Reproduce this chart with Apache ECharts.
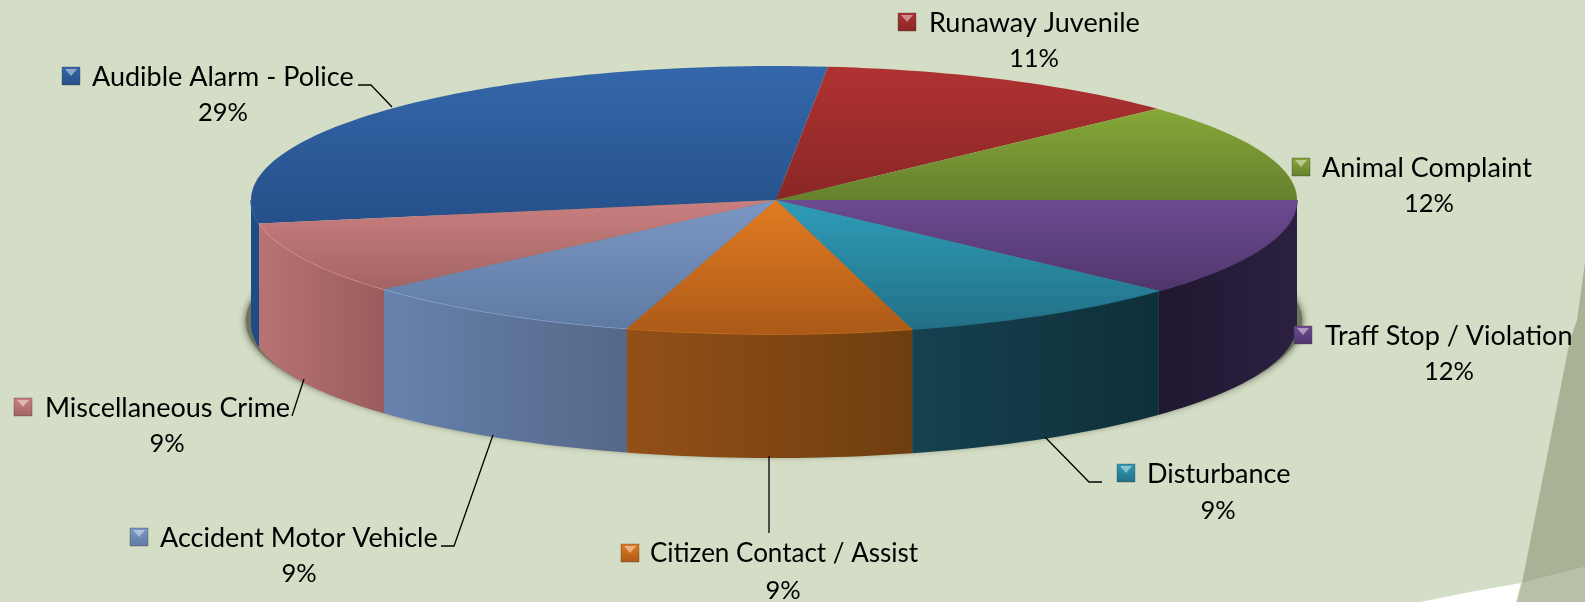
<!DOCTYPE html>
<html>
<head>
<meta charset="utf-8">
<title>Calls by type</title>
<style>
  html, body { margin: 0; padding: 0; background: #d4ddc5; }
  #main { width: 1585px; height: 602px; }
</style>
<script src="https://cdn.jsdelivr.net/npm/echarts@6/dist/echarts.min.js"></script>
</head>
<body>
<div id="main"></div>
<script>
// values (share of calls, in percent)
var categories = ["Audible Alarm - Police", "Runaway Juvenile", "Animal Complaint", "Traff Stop / Violation",
  "Disturbance", "Citizen Contact / Assist", "Accident Motor Vehicle", "Miscellaneous Crime"];
var values = [29.45, 11.45, 11.9, 11.85, 8.9, 8.8, 8.85, 8.8];

// colours per slice: top face (upper, lower), side face (left, right), key
var topColors = [["#3467aa", "#26508a"], ["#b03232", "#8a2626"], ["#86a838", "#66802e"], ["#6c4a92", "#50366c"],
  ["#2f9cb8", "#227086"], ["#e27c22", "#ac5a18"], ["#7b97c4", "#5f7aa2"], ["#ca7f7f", "#a46464"]];
var sideColors = [["#1f4c86", "#1f4c86"], ["#7a2020", "#7a2020"], ["#5c7428", "#5c7428"], ["#211731", "#2b2040"],
  ["#164150", "#0e3039"], ["#935018", "#6e3e10"], ["#6882ac", "#546888"], ["#b87272", "#9a5d5d"]];
var rimColors = ["#3467aa", "#b03232", "#86a838", "#513a70", "#1f6a80", "#c8701e", "#8aa4cc", "#d88c8c"];

// label placement: key left, name left, percent centre, row centres
var labelPos = [
  { key: 62, name: 92, y: 77, pct: 223, pctY: 113 },
  { key: 898, name: 929, y: 23, pct: 1034, pctY: 59 },
  { key: 1292, name: 1322, y: 168, pct: 1429, pctY: 204 },
  { key: 1294, name: 1325, y: 336, pct: 1449, pctY: 372 },
  { key: 1117, name: 1147, y: 474, pct: 1218, pctY: 511 },
  { key: 621, name: 650, y: 554, pct: 783, pctY: 591, size: 26 },
  { key: 130, name: 160, y: 538, pct: 299, pctY: 574 },
  { key: 14, name: 45, y: 408, pct: 167, pctY: 444 }
];
var leaders = [
  [[358, 85], [371, 85], [392, 107]],
  null,
  null,
  null,
  [[1045, 437], [1089, 482], [1102, 482]],
  [[769, 456], [769, 533]],
  [[493, 435], [454, 546], [441, 546]],
  [[304, 379], [292, 416]]
];

var cx = 774, cy = 200, rx = 523, ry = 134, depth = 124;
var apexX = 776;
var startAngle = 169.9;

var total = values.reduce(function (a, b) { return a + b; }, 0);
var starts = [];
values.reduce(function (acc, v, i) { starts[i] = acc; return acc + v / total * 360; }, startAngle);

function ellipsePt(deg, dy) {
  var r = deg * Math.PI / 180;
  return [cx + rx * Math.cos(r), cy + ry * Math.sin(r) + (dy || 0)];
}
function arc(a0, a1, dy) {
  var pts = [];
  var n = Math.max(2, Math.ceil(Math.abs(a1 - a0) / 1.5));
  for (var i = 0; i <= n; i++) pts.push(ellipsePt(a0 + (a1 - a0) * i / n, dy));
  return pts;
}
function vert(c) {
  return { type: "linear", x: 0, y: 0, x2: 0, y2: 1, colorStops: [{ offset: 0, color: c[0] }, { offset: 1, color: c[1] }] };
}
function horiz(c) {
  return { type: "linear", x: 0, y: 0, x2: 1, y2: 0, colorStops: [{ offset: 0, color: c[0] }, { offset: 1, color: c[1] }] };
}

function renderSlice(params, api) {
  var i = params.dataIndex;
  var a0 = starts[i];
  var a1 = a0 + api.value(1) / total * 360;
  var children = [];
  // the part of the rim that faces the viewer: 0-180, or 360-540 once wrapped
  [0, 360].forEach(function (base) {
    var s0 = Math.max(a0, base), s1 = Math.min(a1, base + 180);
    if (s1 <= s0 + 0.1) return;
    var up = arc(s0, s1, 0);
    var side = up.concat(arc(s1, s0, depth));
    children.push({ type: "polygon", shape: { points: side }, style: { fill: horiz(sideColors[i]), stroke: null } });
    children.push({ type: "polyline", shape: { points: up }, style: { fill: null, stroke: rimColors[i], lineWidth: 1.5 } });
  });
  var top = [[apexX, cy]].concat(arc(a0, a1, 0));
  children.push({ type: "polygon", shape: { points: top }, style: { fill: vert(topColors[i]), stroke: null } });
  return { type: "group", children: children };
}

var fontFamily = 'Lato, "Open Sans", sans-serif';

function renderLabel(params, api) {
  var i = params.dataIndex;
  var p = labelPos[i];
  var k = p.y - 10;
  var children = [
    { type: "rect", shape: { x: p.key, y: k, width: 18, height: 18 },
      style: { fill: vert(topColors[i]), stroke: "rgba(60,60,60,0.35)", lineWidth: 1 } },
    { type: "polygon", shape: { points: [[p.key + 3, k + 2], [p.key + 15, k + 2], [p.key + 9, k + 9]] },
      style: { fill: "rgba(255,255,255,0.45)" } },
    { type: "text", style: { x: p.name, y: p.y, text: categories[i], font: (p.size || 27) + "px " + fontFamily, fill: "#000",
      align: "left", verticalAlign: "middle", textAlign: "left", textVerticalAlign: "middle" } },
    { type: "text", style: { x: p.pct, y: p.pctY, text: Math.round(api.value(1)) + "%", font: "25.5px " + fontFamily, fill: "#000",
      align: "center", verticalAlign: "middle", textAlign: "center", textVerticalAlign: "middle" } }
  ];
  if (leaders[i]) {
    children.push({ type: "polyline", shape: { points: leaders[i] }, style: { fill: null, stroke: "#000", lineWidth: 1.3 } });
  }
  return { type: "group", children: children };
}

var chart = echarts.init(document.getElementById("main"), null, { renderer: "canvas" });
var seriesData = categories.map(function (c, i) { return [i, values[i]]; });

chart.setOption({
  backgroundColor: "#d4ddc5",
  animation: false,
  graphic: [
    { type: "polygon", z: 0, shape: { points: [[1585, 262], [1577, 320], [1570, 340], [1522, 583], [1585, 567]] },
      style: { fill: "#a7b394" } },
    { type: "polygon", z: 0, shape: { points: [[1522, 583], [1585, 567], [1585, 602], [1517, 602]] },
      style: { fill: "#b7c1a8" } },
    { type: "polygon", z: 0, shape: { points: [[1521, 583], [1516, 602], [1420, 602], [1470, 592]] },
      style: { fill: "#ffffff" } },
    // soft shadow under the pie
    { type: "polygon", z: 1, shape: { points: arc(0, 360, depth - 3).map(function (p) { return [cx + (p[0] - cx) * 1.01, p[1]]; }) },
      style: { fill: "#6e7460", shadowBlur: 7, shadowColor: "rgba(50,50,40,0.8)" } }
  ],
  series: [
    { type: "custom", name: "slices", coordinateSystem: "none", renderItem: renderSlice, data: seriesData, silent: true, z: 2 },
    { type: "custom", name: "labels", coordinateSystem: "none", renderItem: renderLabel, data: seriesData, silent: true, z: 3 }
  ]
});
</script>
</body>
</html>
